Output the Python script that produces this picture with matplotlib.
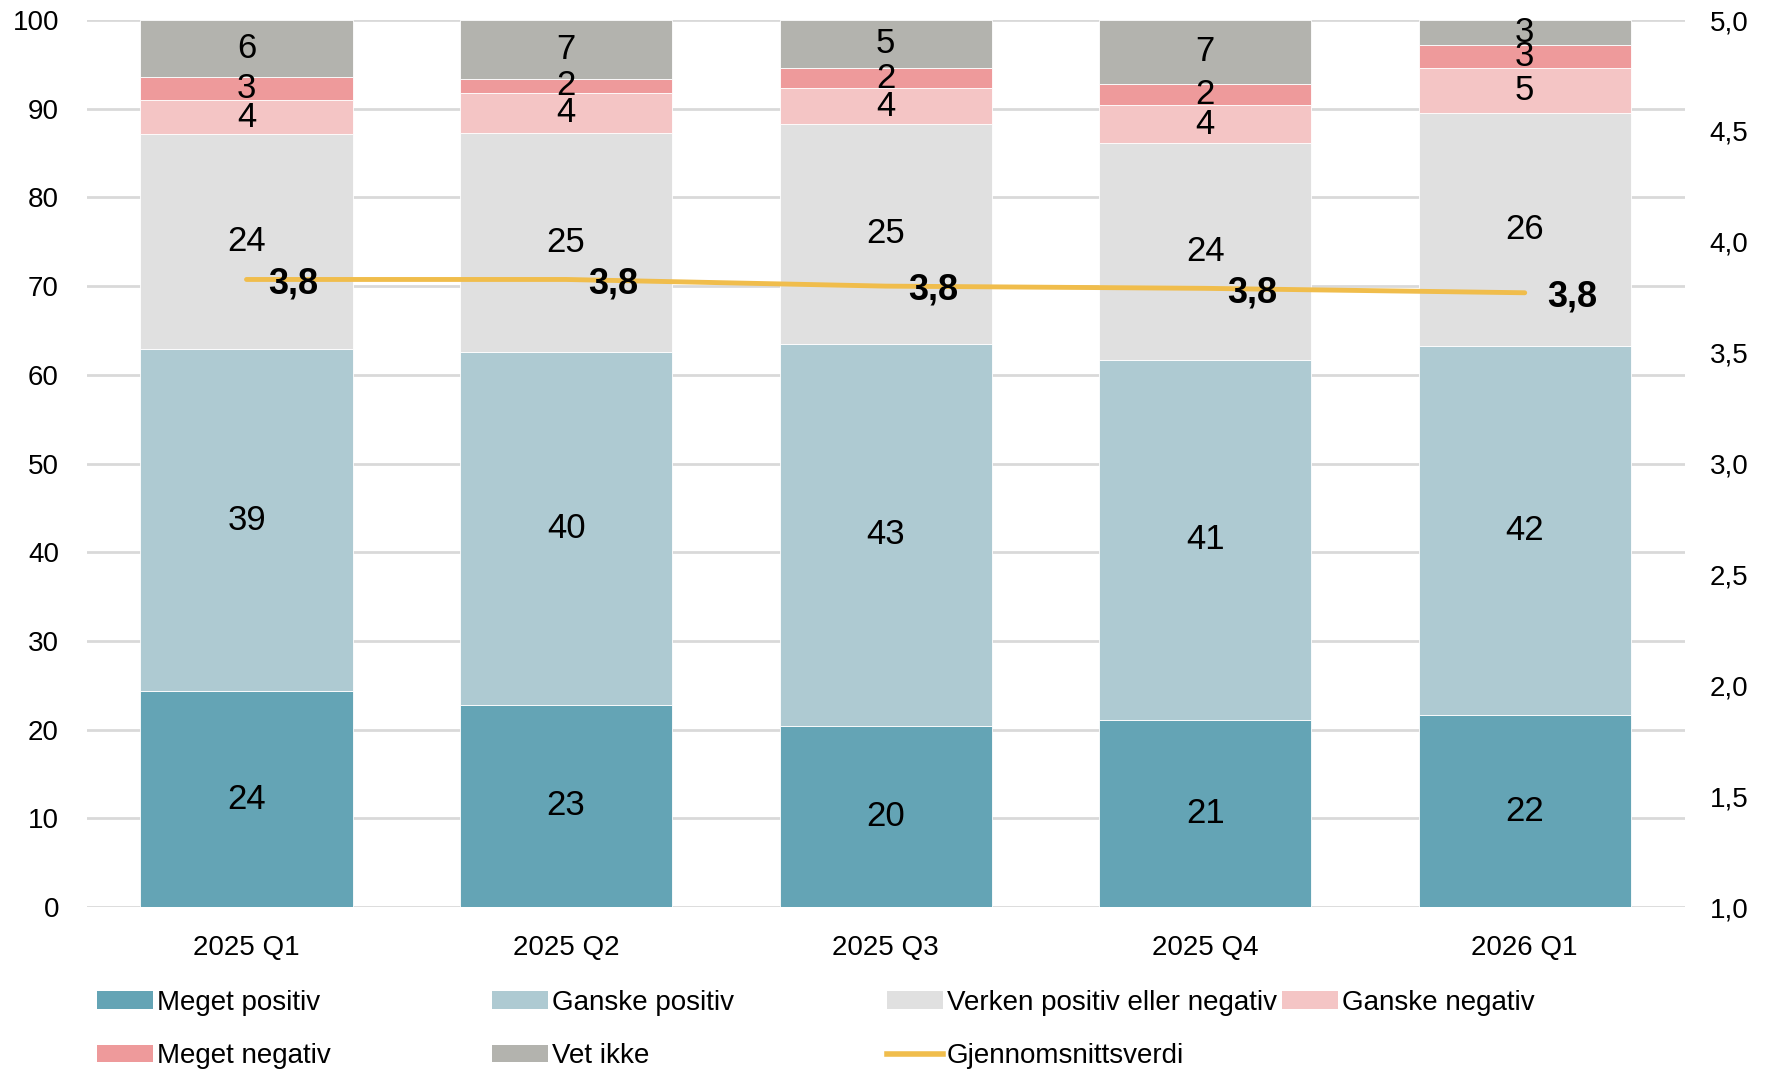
import matplotlib
matplotlib.use('Agg')
import matplotlib.pyplot as plt
import numpy as np
from matplotlib.patches import Patch
from matplotlib.lines import Line2D
from matplotlib.ticker import FuncFormatter, MultipleLocator

plt.rcParams['font.family'] = ['Liberation Sans', 'DejaVu Sans']

# survey shares per quarter (percent)
quarters = ['2025 Q1', '2025 Q2', '2025 Q3', '2025 Q4', '2026 Q1']
meget_positiv = [24.3, 22.8, 20.4, 21.1, 21.6]
ganske_positiv = [38.6, 39.8, 43.1, 40.6, 41.7]
verken = [24.2, 24.7, 24.8, 24.4, 26.2]
ganske_negativ = [3.9, 4.5, 4.0, 4.3, 5.1]
meget_negativ = [2.6, 1.6, 2.3, 2.4, 2.6]
vet_ikke = [6.4, 6.6, 5.4, 7.2, 2.8]
# average score, right axis (1-5)
gjennomsnitt = [3.83, 3.83, 3.80, 3.79, 3.77]

series = [
    ('Meget positiv', meget_positiv, '#64a4b5'),
    ('Ganske positiv', ganske_positiv, '#aecad2'),
    ('Verken positiv eller negativ', verken, '#e0e0e0'),
    ('Ganske negativ', ganske_negativ, '#f4c5c5'),
    ('Meget negativ', meget_negativ, '#ee9a9b'),
    ('Vet ikke', vet_ikke, '#b3b3ae'),
]
line_color = '#f0bd4c'


def comma(v, pos=None):
    return f'{v:.1f}'.replace('.', ',')


fig = plt.figure(figsize=(17.7, 10.7), dpi=100)
ax = fig.add_axes([0.049, 0.1523, 0.9027, 0.829])

x = np.arange(len(quarters))
bottom = np.zeros(len(quarters))
for name, vals, color in series:
    vals = np.array(vals)
    bars = ax.bar(x, vals, 0.664, bottom=bottom, color=color, edgecolor='white',
                  linewidth=0.6, label=name, zorder=2)
    ax.bar_label(bars, labels=[f'{v:.0f}' for v in vals], label_type='center',
                 fontsize=25, color='black')
    bottom += vals

ax.set_xlim(-0.5, len(quarters) - 0.5)
ax.set_ylim(0, 100)
ax.yaxis.set_major_locator(MultipleLocator(10))
ax.grid(axis='y', color='#d9d9d9', linewidth=2, zorder=0)
ax.set_axisbelow(True)
for s in ax.spines.values():
    s.set_visible(False)
ax.set_xticks(x, quarters)
ax.tick_params(axis='x', length=0, pad=20, labelsize=20)
ax.tick_params(axis='y', length=0, pad=20, labelsize=20)

ax2 = ax.twinx()
ax2.set_ylim(1, 5)
ax2.yaxis.set_major_locator(MultipleLocator(0.5))
ax2.yaxis.set_major_formatter(FuncFormatter(comma))
for s in ax2.spines.values():
    s.set_visible(False)
ax2.tick_params(axis='y', length=0, pad=18, labelsize=20)
ax2.plot(x, gjennomsnitt, color=line_color, linewidth=3.5, solid_capstyle='round', zorder=3)
for xi, v in zip(x, gjennomsnitt):
    ax2.annotate(comma(v), (xi, v), xytext=(34, -3), textcoords='offset points',
                 ha='center', va='center', fontsize=26, fontweight='bold')

# legend laid out in four evenly spaced columns
handles = [Patch(facecolor=c, label=n) for n, _, c in series]
handles.append(Line2D([], [], color=line_color, linewidth=4, label='Gjennomsnittsverdi'))
columns = [[handles[0], handles[4]], [handles[1], handles[5]],
           [handles[2], handles[6]], [handles[3]]]
col_x = [97, 492, 887, 1282]
for hs, cx in zip(columns, col_x):
    fig.legend(handles=hs, loc='upper left', bbox_to_anchor=(cx / 1770, 1 - 990 / 1070),
               frameon=False, fontsize=20, borderpad=0, borderaxespad=0,
               handlelength=2.0, handleheight=0.6, handletextpad=0.15, labelspacing=0.98)

fig.savefig('out.png', dpi=100)
